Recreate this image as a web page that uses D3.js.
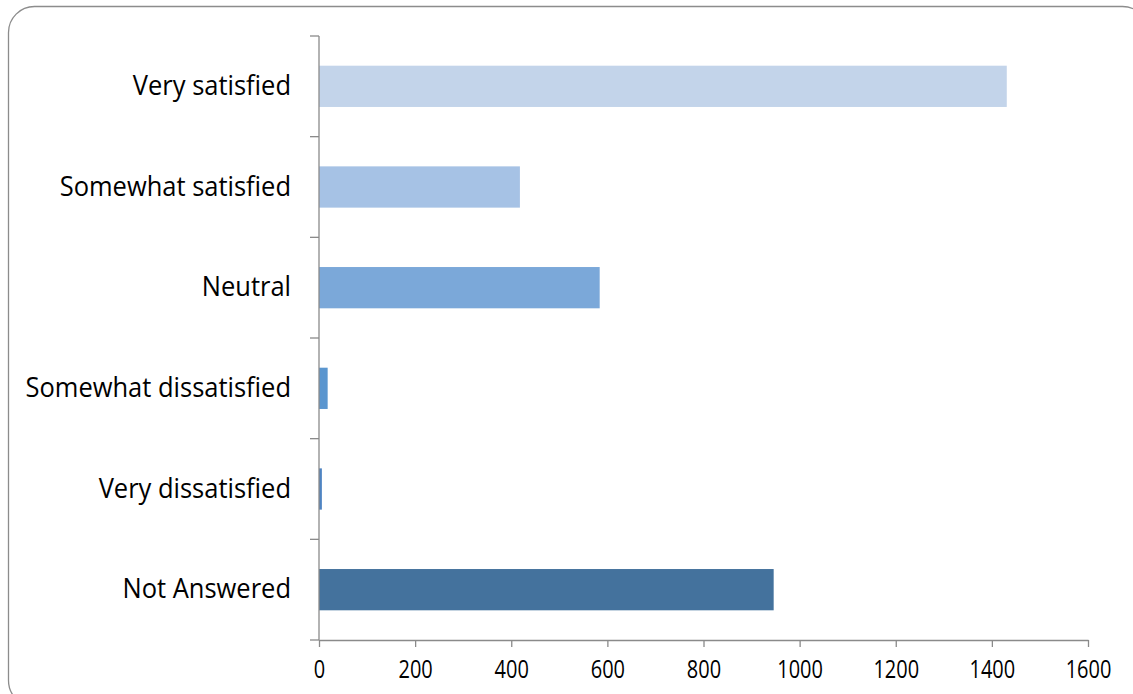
<!DOCTYPE html>
<html>
<head>
<meta charset="utf-8">
<script src="https://cdn.jsdelivr.net/npm/d3@7"></script>
<style>
  body { margin: 0; background: #fff; }
  text { font-family: "Open Sans", sans-serif; fill: #000; }
</style>
</head>
<body>
<div id="chart"></div>
<script>
// data
const categories = ["Very satisfied", "Somewhat satisfied", "Neutral",
    "Somewhat dissatisfied", "Very dissatisfied", "Not Answered"];
const counts = [1431, 418, 584, 18, 6, 946];
const barColors = ["#c3d4ea", "#a6c2e5", "#7ba8d9", "#5b96cf", "#4f84c2", "#44729d"];
const xTicks = [0, 200, 400, 600, 800, 1000, 1200, 1400, 1600];

function main() {
    const width = 1133, height = 694;
    const left = 319, top = 36, right = 1088, bottom = 640;
    const axisColor = "#8a8a8a";
    const tickStretch = 1.25;  // tick numbers look stretched vertically
    const labelStretch = 1.05;

    const svg = d3.select("#chart").append("svg")
        .attr("width", width)
        .attr("height", height)

    // rounded frame, runs off the right and bottom edges
    svg.append("rect")
        .attr("x", 8.5).attr("y", 6.5)
        .attr("width", 1140).attr("height", 700)
        .attr("rx", 26).attr("ry", 26)
        .attr("fill", "none")
        .attr("stroke", "#8c8c8c")
        .attr("stroke-width", 1.3)

    const x = d3.scaleLinear().domain([0, 1600]).range([left, right])
    const y = d3.scaleBand().domain(categories).range([top, bottom]).padding(0)
    const barH = y.bandwidth() * 0.41

    svg.append("g")
        .selectAll("rect")
        .data(categories)
        .enter().append("rect")
        .attr("x", x(0))
        .attr("y", d => y(d) + (y.bandwidth() - barH) / 2)
        .attr("width", (d, i) => x(counts[i]) - x(0))
        .attr("height", barH)
        .attr("fill", (d, i) => barColors[i])

    // x axis
    const xAxis = svg.append("g")
        .attr("transform", `translate(0,${bottom})`)
        .call(d3.axisBottom(x).tickValues(xTicks).tickSize(7).tickSizeOuter(0).tickFormat(d3.format("d")))
    xAxis.select(".domain").attr("stroke", axisColor).attr("stroke-width", 1.3)
    xAxis.selectAll(".tick line").attr("stroke", axisColor).attr("stroke-width", 1.3)
    xAxis.selectAll(".tick text")
        .attr("y", 0).attr("dy", 0)
        .attr("font-size", 20)
        .attr("transform", `translate(0,38) scale(1,${tickStretch})`)

    // y axis: line, ticks on band edges, labels centred in bands
    const yg = svg.append("g")
    yg.append("line")
        .attr("x1", left).attr("x2", left)
        .attr("y1", top).attr("y2", bottom)
        .attr("stroke", axisColor).attr("stroke-width", 1.3)
    const edges = categories.map(c => y(c)).concat([bottom])
    yg.selectAll(".edge")
        .data(edges)
        .enter().append("line")
        .attr("class", "edge")
        .attr("x1", left - 9).attr("x2", left)
        .attr("y1", d => d).attr("y2", d => d)
        .attr("stroke", axisColor).attr("stroke-width", 1.3)
    yg.selectAll(".label")
        .data(categories)
        .enter().append("text")
        .attr("class", "label")
        .attr("text-anchor", "end")
        .attr("font-size", 25.5)
        .attr("transform", d => `translate(291,${y(d) + y.bandwidth() / 2 + 8.5}) scale(1,${labelStretch})`)
        .text(d => d)
}
main();
</script>
</body>
</html>
